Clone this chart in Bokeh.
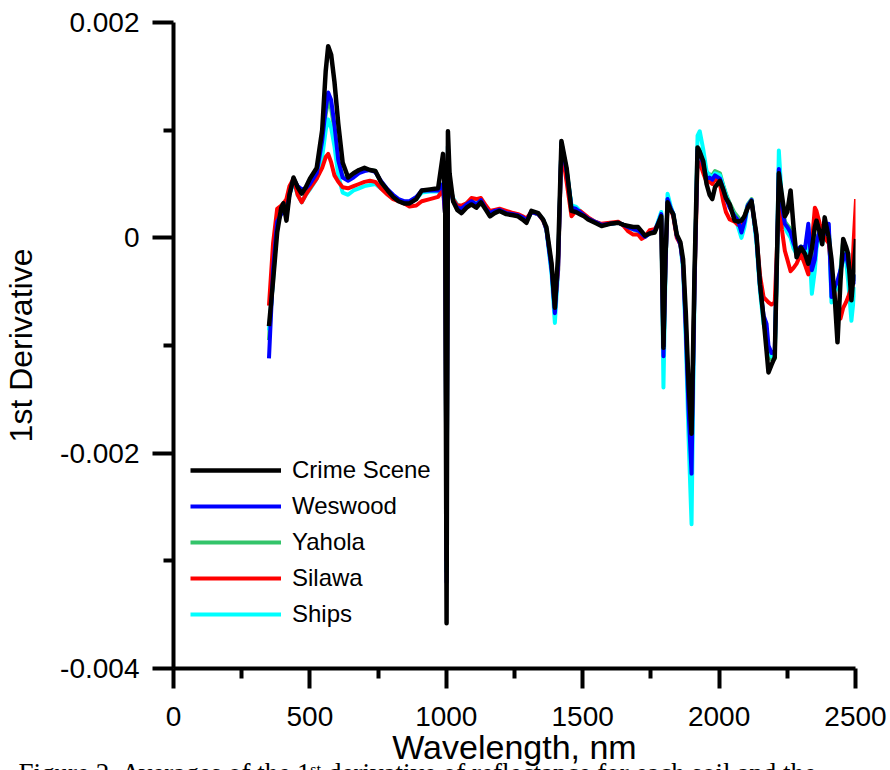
import numpy as np
from bokeh.plotting import figure
from bokeh.models import (ColumnDataSource, FixedTicker, CustomJSTickFormatter,
                          Legend, LegendItem, Title)
from bokeh.embed import file_html
from bokeh.resources import INLINE

# Wavelength grid (nm) shared by all spectra
wavelength = [
    350, 365, 380, 395, 403, 414, 425, 440, 455, 470, 485, 500, 525, 545, 558,
    567, 578, 590, 604, 620, 640, 660, 680, 700, 720, 740, 760, 785, 805, 825,
    845, 865, 890, 910, 940, 970, 988, 996, 1001, 1006, 1012, 1025, 1040, 1056,
    1074, 1092, 1110, 1127, 1145, 1160, 1177, 1195, 1220, 1245, 1263, 1280, 1294,
    1312, 1337, 1355, 1367, 1386, 1398, 1410, 1422, 1441, 1459, 1475, 1490, 1505,
    1520, 1545, 1569, 1600, 1630, 1650, 1667, 1685, 1703, 1716, 1728, 1745, 1764,
    1780, 1788, 1796, 1803, 1811, 1822, 1832, 1845, 1858, 1868, 1878, 1888, 1899,
    1910, 1921, 1929, 1942, 1954, 1965, 1975, 1985, 2003, 2015, 2025, 2039, 2057,
    2070, 2082, 2093, 2105, 2119, 2137, 2150, 2163, 2174, 2181, 2192, 2204, 2212,
    2219, 2230, 2241, 2250, 2262, 2273, 2284, 2300, 2315, 2327, 2340, 2351, 2357,
    2369, 2378, 2387, 2402, 2412, 2425, 2434, 2445, 2455, 2465, 2473, 2485, 2494,
    2502,
]

# First-derivative spectra, in units of 1e-3 per nm
crime_scene = [
    -0.82, -0.40, 0.05, 0.28, 0.32, 0.16, 0.40, 0.56, 0.47, 0.41, 0.47, 0.55, 0.65, 1.00, 1.55,
    1.78, 1.70, 1.45, 1.06, 0.70, 0.56, 0.60, 0.63, 0.65, 0.63, 0.62, 0.52, 0.44, 0.38, 0.34,
    0.32, 0.32, 0.36, 0.44, 0.45, 0.46, 0.78, 0.30, -3.58, 0.99, 0.60, 0.34, 0.26, 0.23,
    0.28, 0.31, 0.28, 0.33, 0.26, 0.20, 0.23, 0.25, 0.22, 0.21, 0.20, 0.17, 0.14,
    0.25, 0.23, 0.17, 0.10, -0.24, -0.65, -0.15, 0.90, 0.65, 0.25, 0.24, 0.22, 0.20,
    0.17, 0.14, 0.11, 0.13, 0.14, 0.12, 0.11, 0.10, 0.10, 0.06, 0.02, 0.04, 0.05,
    0.15, 0.20, -1.02, -0.20, 0.33, 0.26, 0.22, 0.03, -0.04, -0.20, -0.70, -1.36, -1.82,
    -0.30, 0.84, 0.80, 0.71, 0.50, 0.40, 0.36, 0.47, 0.53, 0.45, 0.37, 0.31, 0.16,
    0.15, 0.16, 0.20, 0.28, 0.34, 0.03, -0.43, -0.75, -1.05, -1.25, -1.18, -1.11, -0.20,
    0.60, 0.40, 0.20, 0.24, 0.44, 0.10, -0.18, -0.09, -0.15, -0.24, -0.10, 0.10, 0.16,
    0.05, -0.06, 0.19, 0.00, -0.20, -0.60, -0.97, -0.40, -0.01, -0.08, -0.15, -0.58, -0.30,
    -0.01,
]
weswood = [
    -1.12, -0.30, 0.15, 0.22, 0.24, 0.22, 0.40, 0.55, 0.48, 0.45, 0.46, 0.50, 0.60, 0.90, 1.20,
    1.35, 1.28, 1.05, 0.72, 0.56, 0.53, 0.56, 0.60, 0.62, 0.63, 0.61, 0.53, 0.45, 0.40, 0.36,
    0.34, 0.34, 0.38, 0.44, 0.44, 0.44, 0.50, 0.20, -3.20, 0.85, 0.50, 0.34, 0.28, 0.27,
    0.31, 0.34, 0.31, 0.35, 0.27, 0.23, 0.25, 0.26, 0.23, 0.22, 0.21, 0.19, 0.16,
    0.24, 0.22, 0.17, 0.08, -0.30, -0.70, -0.25, 0.88, 0.62, 0.28, 0.27, 0.24, 0.21,
    0.18, 0.15, 0.12, 0.13, 0.14, 0.12, 0.10, 0.08, 0.07, 0.04, 0.01, 0.04, 0.06,
    0.16, 0.22, -1.10, -0.30, 0.36, 0.28, 0.22, 0.02, -0.06, -0.25, -0.85, -1.60, -2.19,
    -0.40, 0.82, 0.80, 0.68, 0.55, 0.56, 0.54, 0.58, 0.55, 0.45, 0.37, 0.28, 0.20,
    0.16, 0.05, 0.15, 0.30, 0.35, 0.00, -0.45, -0.72, -0.80, -1.00, -1.07, -1.05, -0.20,
    0.64, 0.30, 0.13, 0.10, 0.05, -0.05, -0.12, -0.08, -0.10, 0.13, -0.30, -0.20, -0.05,
    0.07, 0.00, 0.05, 0.13, -0.55, -0.45, -0.40, -0.30, -0.20, -0.15, -0.25, -0.40, -0.35,
    -0.43,
]
yahola = [
    -0.95, -0.35, 0.12, 0.25, 0.27, 0.26, 0.42, 0.55, 0.47, 0.43, 0.44, 0.48, 0.58, 0.85, 1.15,
    1.27, 1.20, 1.00, 0.70, 0.57, 0.54, 0.57, 0.61, 0.63, 0.63, 0.62, 0.52, 0.44, 0.39, 0.35,
    0.33, 0.33, 0.37, 0.43, 0.44, 0.44, 0.50, 0.20, -3.10, 0.85, 0.50, 0.35, 0.29, 0.28,
    0.31, 0.34, 0.31, 0.35, 0.28, 0.24, 0.25, 0.26, 0.23, 0.22, 0.21, 0.19, 0.16,
    0.24, 0.22, 0.17, 0.08, -0.28, -0.68, -0.22, 0.88, 0.63, 0.29, 0.27, 0.24, 0.21,
    0.18, 0.15, 0.12, 0.13, 0.14, 0.12, 0.10, 0.08, 0.07, 0.04, 0.01, 0.04, 0.06,
    0.16, 0.22, -1.10, -0.30, 0.36, 0.28, 0.22, 0.02, -0.06, -0.25, -0.82, -1.55, -2.05,
    -0.38, 0.84, 0.82, 0.70, 0.58, 0.59, 0.58, 0.62, 0.60, 0.49, 0.41, 0.32, 0.23,
    0.19, 0.14, 0.20, 0.31, 0.36, 0.00, -0.45, -0.75, -0.95, -1.10, -1.13, -1.12, -0.25,
    0.62, 0.35, 0.15, 0.12, 0.08, -0.05, -0.12, -0.08, -0.10, 0.05, -0.20, -0.10, 0.00,
    0.05, 0.00, 0.05, 0.08, -0.40, -0.45, -0.45, -0.30, -0.02, -0.10, -0.25, -0.40, -0.35,
    -0.40,
]
silawa = [
    -0.63, -0.05, 0.27, 0.30, 0.32, 0.36, 0.48, 0.55, 0.40, 0.33, 0.40, 0.46, 0.55, 0.65, 0.75,
    0.78, 0.70, 0.58, 0.52, 0.47, 0.46, 0.48, 0.50, 0.52, 0.53, 0.52, 0.46, 0.40, 0.36, 0.34,
    0.32, 0.29, 0.30, 0.34, 0.36, 0.38, 0.45, 0.20, -3.00, 0.80, 0.50, 0.36, 0.30, 0.30,
    0.32, 0.37, 0.36, 0.37, 0.30, 0.25, 0.26, 0.27, 0.25, 0.23, 0.22, 0.20, 0.18,
    0.24, 0.22, 0.16, 0.08, -0.26, -0.62, -0.30, 0.85, 0.52, 0.20, 0.25, 0.25, 0.22,
    0.19, 0.15, 0.13, 0.14, 0.15, 0.11, 0.06, 0.03, 0.03, -0.01, 0.01, 0.07, 0.08,
    0.14, 0.18, -1.00, -0.30, 0.33, 0.27, 0.20, 0.00, -0.06, -0.25, -0.80, -1.45, -1.90,
    -0.45, 0.70, 0.70, 0.60, 0.52, 0.52, 0.50, 0.55, 0.50, 0.34, 0.24, 0.17, 0.15,
    0.12, 0.10, 0.20, 0.28, 0.33, 0.02, -0.35, -0.55, -0.58, -0.60, -0.62, -0.60, -0.10,
    0.40, 0.08, -0.12, -0.20, -0.31, -0.28, -0.24, -0.15, -0.25, -0.34, -0.05, 0.28, 0.25,
    0.13, 0.05, 0.00, -0.05, -0.31, -0.55, -0.72, -0.75, -0.65, -0.60, -0.55, -0.46, 0.00,
    0.36,
]
ships = [
    -0.86, -0.40, 0.12, 0.25, 0.28, 0.26, 0.40, 0.52, 0.40, 0.33, 0.40, 0.45, 0.55, 0.75, 1.00,
    1.10, 1.02, 0.85, 0.58, 0.42, 0.40, 0.44, 0.46, 0.48, 0.49, 0.50, 0.46, 0.42, 0.38, 0.35,
    0.33, 0.33, 0.36, 0.42, 0.43, 0.43, 0.50, 0.20, -3.10, 0.85, 0.50, 0.37, 0.31, 0.29,
    0.32, 0.34, 0.32, 0.35, 0.28, 0.23, 0.25, 0.26, 0.24, 0.22, 0.21, 0.18, 0.15,
    0.24, 0.22, 0.17, 0.07, -0.34, -0.79, -0.30, 0.88, 0.63, 0.30, 0.29, 0.25, 0.21,
    0.18, 0.15, 0.12, 0.13, 0.14, 0.12, 0.10, 0.08, 0.06, 0.03, 0.01, 0.04, 0.06,
    0.18, 0.24, -1.39, -0.40, 0.41, 0.30, 0.22, 0.02, -0.06, -0.30, -0.95, -1.85, -2.66,
    -0.50, 0.95, 0.99, 0.82, 0.62, 0.58, 0.56, 0.60, 0.58, 0.48, 0.40, 0.30, 0.20,
    0.10, 0.00, 0.10, 0.30, 0.34, -0.05, -0.50, -0.80, -0.90, -1.05, -1.10, -1.10, -0.20,
    0.81, 0.35, 0.10, 0.05, 0.00, -0.10, -0.15, -0.10, -0.20, 0.10, -0.52, -0.30, -0.10,
    0.05, -0.05, 0.02, 0.10, -0.60, -0.50, -0.45, -0.30, -0.10, -0.20, -0.40, -0.77, -0.55,
    -0.46,
]

x_ticks = [0, 500, 1000, 1500, 2000, 2500]
x_minor_ticks = [250, 750, 1250, 1750, 2250]
y_ticks = [-0.004, -0.002, 0, 0.002]
y_minor_ticks = [-0.003, -0.001, 0.001]

SANS = "Liberation Sans"
SERIF = "Liberation Serif"

p = figure(frame_width=682, frame_height=646,
           min_border_left=172, min_border_right=36,
           min_border_top=22, min_border_bottom=60,
           x_range=(0, 2500), y_range=(-0.004, 0.002),
           x_axis_label="Wavelength, nm", y_axis_label="1st Derivative",
           output_backend="svg", toolbar_location=None)
p.outline_line_color = None
p.xgrid.visible = False
p.ygrid.visible = False
p.background_fill_color = "white"
p.border_fill_color = "white"

for ax in (p.xaxis[0], p.yaxis[0]):
    ax.axis_line_width = 4
    ax.axis_line_color = "black"
    ax.major_tick_line_width = 4
    ax.minor_tick_line_width = 4
    ax.major_tick_line_color = "black"
    ax.minor_tick_line_color = "black"
    ax.major_tick_in = 0
    ax.minor_tick_in = 0
    ax.major_label_text_font = SANS
    ax.major_label_text_font_size = "28px"
    ax.major_label_text_color = "black"
    ax.axis_label_text_font = SANS
    ax.axis_label_text_font_style = "normal"
    ax.axis_label_text_color = "black"

p.xaxis[0].ticker = FixedTicker(ticks=x_ticks, minor_ticks=x_minor_ticks)
p.xaxis[0].major_tick_out = 20
p.xaxis[0].minor_tick_out = 10
p.xaxis[0].major_label_standoff = 18
p.xaxis[0].axis_label_standoff = -1
p.xaxis[0].axis_label_text_font_size = "34px"

p.yaxis[0].ticker = FixedTicker(ticks=y_ticks, minor_ticks=y_minor_ticks)
p.yaxis[0].major_tick_out = 21
p.yaxis[0].minor_tick_out = 10
p.yaxis[0].major_label_standoff = 13
p.yaxis[0].axis_label_standoff = 18
p.yaxis[0].axis_label_text_font_size = "32px"
p.yaxis[0].formatter = CustomJSTickFormatter(
    code="return Math.abs(tick) < 1e-12 ? '0' : tick.toFixed(3);")

wl = np.array(wavelength, dtype=float)
series = {
    "Crime Scene": (crime_scene, "#000000", 4.5),
    "Weswood": (weswood, "#0000ff", 4),
    "Yahola": (yahola, "#33c46a", 4),
    "Silawa": (silawa, "#ff0000", 4),
    "Ships": (ships, "#00ffff", 4),
}

renderers = {}
for name in ["Yahola", "Ships", "Silawa", "Weswood", "Crime Scene"]:
    vals, color, lw = series[name]
    src = ColumnDataSource(dict(x=wl, y=np.array(vals) * 1e-3))
    renderers[name] = p.line("x", "y", source=src, line_color=color,
                             line_width=lw, line_join="round")

legend = Legend(
    items=[LegendItem(label=n, renderers=[renderers[n]])
           for n in ["Crime Scene", "Weswood", "Yahola", "Silawa", "Ships"]],
    location=(17, 36), padding=0, margin=0, spacing=0,
    glyph_width=91, glyph_height=36, label_height=36, label_standoff=11,
    label_text_font=SANS, label_text_font_size="24px",
    label_text_color="black", label_text_baseline="middle",
    border_line_color=None, background_fill_alpha=0)
p.add_layout(legend)

# Figure caption under the axis title
caption = Title(text="Figure 2.  Averages of the 1ˢᵗ derivative of reflectance for each soil and the",
                align="left", offset=-155, standoff=-26,
                text_font=SERIF, text_font_size="27px",
                text_font_style="normal", text_color="black")
p.add_layout(caption, "below")

open("out.html", "w").write(file_html(p, INLINE))
